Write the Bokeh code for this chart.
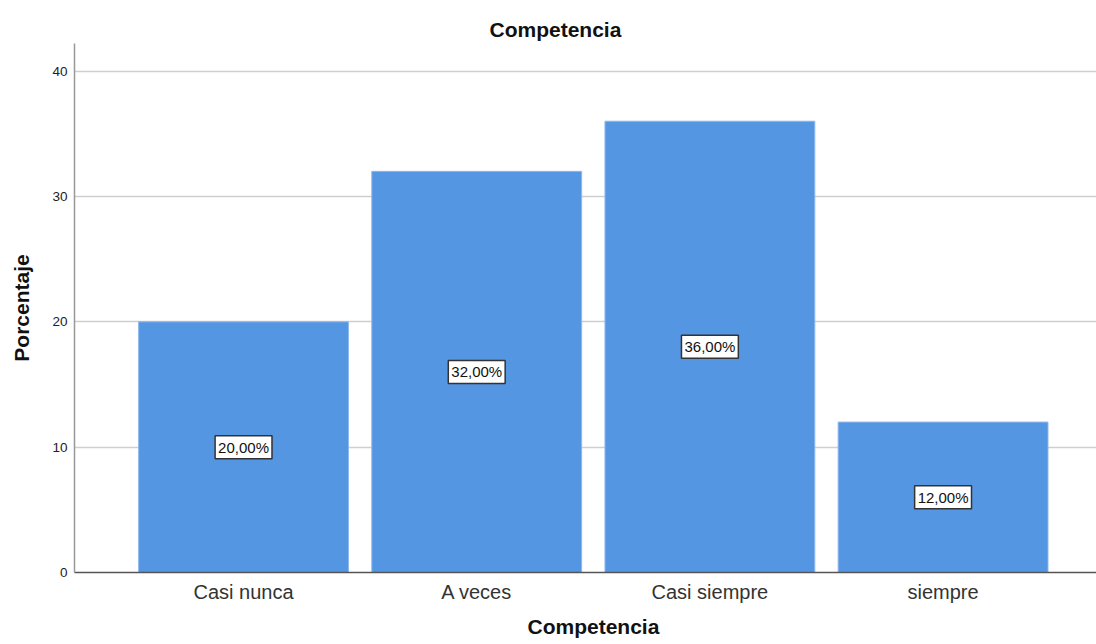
from bokeh.plotting import figure
from bokeh.models import ColumnDataSource, FixedTicker, Range1d, Title
from bokeh.core.properties import value
from bokeh.embed import file_html
from bokeh.resources import INLINE

# Data
categories = ["Casi nunca", "A veces", "Casi siempre", "siempre"]
percentages = [20.0, 32.0, 36.0, 12.0]
y_ticks = [0, 10, 20, 30, 40]
chart_title = "Competencia"
x_title = "Competencia"
y_title = "Porcentaje"

FONT = "Liberation Sans"
BAR_COLOR = "#5596e3"

xs = list(range(len(categories)))
source = ColumnDataSource(dict(
    x=xs,
    top=percentages,
    mid=[v / 2 for v in percentages],
    label=[f"{v:.2f}%".replace(".", ",") for v in percentages],
))

p = figure(
    width=1096, height=644,
    x_range=Range1d(-0.725, 3.658),
    y_range=Range1d(0, 42.2),
    output_backend="svg",
    toolbar_location=None,
    min_border_left=74, min_border_right=0,
    min_border_top=43, min_border_bottom=72,
)
p.background_fill_color = "white"
p.border_fill_color = "white"
p.outline_line_color = None

p.vbar(x="x", top="top", width=0.9, bottom=0, source=source,
       fill_color=BAR_COLOR, line_color="#8fb8ec", line_width=1)

# Percentage labels in boxed text at half the bar height
p.text(x="x", y="mid", text="label", source=source,
       text_align="center", text_baseline="middle",
       text_font=value(FONT), text_font_size="15px", text_color="#111111",
       background_fill_color="white", background_fill_alpha=1.0,
       border_line_color="#333333", border_line_width=1.5,
       padding=3)

# Chart title
p.add_layout(Title(text=chart_title, align="left", offset=415, standoff=5,
                   text_font=FONT, text_font_size="21px", text_font_style="bold",
                   text_color="#111111"), "above")

# X axis title below the category labels
p.add_layout(Title(text=x_title, align="left", offset=453, standoff=14,
                   text_font=FONT, text_font_size="21px", text_font_style="bold",
                   text_color="#111111"), "below")

# X axis
p.xaxis.ticker = FixedTicker(ticks=xs)
p.xaxis.major_label_overrides = {i: c for i, c in enumerate(categories)}
p.xaxis.major_label_text_font = FONT
p.xaxis.major_label_text_font_size = "20px"
p.xaxis.major_label_text_color = "#333333"
p.xaxis.major_label_standoff = 8
p.xaxis.major_tick_out = 0
p.xaxis.major_tick_in = 0
p.xaxis.major_tick_line_color = None
p.xaxis.minor_tick_line_color = None
p.xaxis.axis_line_color = "#555555"
p.xaxis.axis_line_width = 1.3

# Y axis
p.yaxis.ticker = FixedTicker(ticks=y_ticks)
p.yaxis.major_label_text_font = FONT
p.yaxis.major_label_text_font_size = "13.5px"
p.yaxis.major_label_text_color = "#222222"
p.yaxis.major_label_standoff = 7
p.yaxis.major_tick_out = 0
p.yaxis.major_tick_in = 0
p.yaxis.major_tick_line_color = None
p.yaxis.minor_tick_line_color = None
p.yaxis.axis_line_color = "#999999"
p.yaxis.axis_line_width = 1.5
p.yaxis.axis_label = y_title
p.yaxis.axis_label_text_font = FONT
p.yaxis.axis_label_text_font_size = "21px"
p.yaxis.axis_label_text_font_style = "bold"
p.yaxis.axis_label_text_color = "#111111"
p.yaxis.axis_label_standoff = 16

# Grid
p.xgrid.grid_line_color = None
p.ygrid.ticker = FixedTicker(ticks=y_ticks)
p.ygrid.grid_line_color = "#cfcfcf"
p.ygrid.grid_line_width = 1.6

open("out.html", "w").write(file_html(p, INLINE))
